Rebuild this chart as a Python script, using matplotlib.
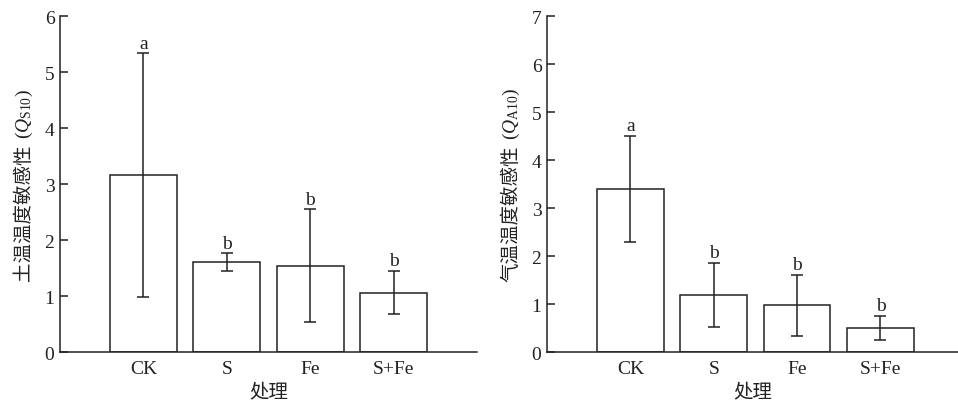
import matplotlib
matplotlib.use('Agg')
import matplotlib.pyplot as plt
import numpy as np

# data
treatments = ["CK", "S", "Fe", "S+Fe"]
soil_q10 = [3.16, 1.60, 1.54, 1.06]
soil_err = [2.18, 0.16, 1.01, 0.39]
soil_letters = ["a", "b", "b", "b"]
air_q10 = [3.40, 1.19, 0.97, 0.51]
air_err = [1.11, 0.67, 0.64, 0.25]
air_letters = ["a", "b", "b", "b"]

plt.rcParams['font.family'] = ['Liberation Serif', 'Noto Sans CJK SC']
plt.rcParams['mathtext.fontset'] = 'custom'
plt.rcParams['mathtext.rm'] = 'Liberation Serif'
plt.rcParams['mathtext.it'] = 'Liberation Serif:italic'
plt.rcParams['font.size'] = 14

INK = "#222222"

fig = plt.figure(figsize=(9.58, 4.02), dpi=100)
W, H = 958.0, 402.0
renderer = fig.canvas.get_renderer()

def ylabel2(cjk, math, xbase, ycenter):
    # chinese part and math part drawn as two texts sharing one baseline
    t1 = fig.text(xbase / W, 0, cjk, rotation=90, rotation_mode="anchor",
                  ha="left", va="baseline", fontsize=14, color=INK,
                  family=["Noto Sans CJK SC"])
    t2 = fig.text(xbase / W, 0, math, rotation=90, rotation_mode="anchor",
                  ha="left", va="baseline", fontsize=14, color=INK)
    h1 = t1.get_window_extent(renderer).height
    h2 = t2.get_window_extent(renderer).height
    gap = 5
    y0 = ycenter - (h1 + gap + h2) / 2.0
    t1.set_y(y0 / H)
    t2.set_y((y0 + h1 + gap) / H)

def panel(rect, vals, errs, letters, ymax, xmax):
    ax = fig.add_axes(rect)
    x = np.arange(len(treatments))
    ax.bar(x, vals, width=0.8, color="white", edgecolor=INK, linewidth=1.1, zorder=2)
    ax.errorbar(x, vals, yerr=errs, fmt="none", ecolor=INK, elinewidth=1.1,
                capsize=4, capthick=1.1, zorder=3)
    for xi, v, e, l in zip(x, vals, errs, letters):
        ax.annotate(l, (xi, v + e), xytext=(0, 1), textcoords="offset points",
                    ha="center", va="bottom", fontsize=14, color=INK)
    ax.set_xlim(-1, xmax)
    ax.set_ylim(0, ymax)
    ax.set_yticks(range(0, ymax + 1))
    ax.set_xticks(x)
    ax.set_xticklabels(treatments)
    for s in ["top", "right"]:
        ax.spines[s].set_visible(False)
    for s in ["left", "bottom"]:
        ax.spines[s].set_color(INK)
        ax.spines[s].set_linewidth(1.1)
    ax.tick_params(axis="y", direction="in", length=6, width=1.1, color=INK,
                   labelcolor=INK, labelsize=14, pad=4)
    ax.tick_params(axis="x", direction="in", length=5, width=1.1, color=INK,
                   labelcolor=INK, labelsize=14, pad=6)
    ax.set_xlabel("处理", fontsize=14, color=INK, labelpad=2,
                  family=["Noto Sans CJK SC"])
    return ax

panel([60 / W, 1 - 353 / H, 417 / W, 336 / H], soil_q10, soil_err, soil_letters, 6, 4.0)
panel([547 / W, 1 - 353 / H, 411 / W, 336 / H], air_q10, air_err, air_letters, 7, 3.93)

ylabel2("土温温度敏感性", "$(\\mathit{Q}_{\\mathrm{S10}})$", 29, H - 185)
ylabel2("气温温度敏感性", "$(\\mathit{Q}_{\\mathrm{A10}})$", 516, H - 185)

fig.savefig("out.png", dpi=100)
